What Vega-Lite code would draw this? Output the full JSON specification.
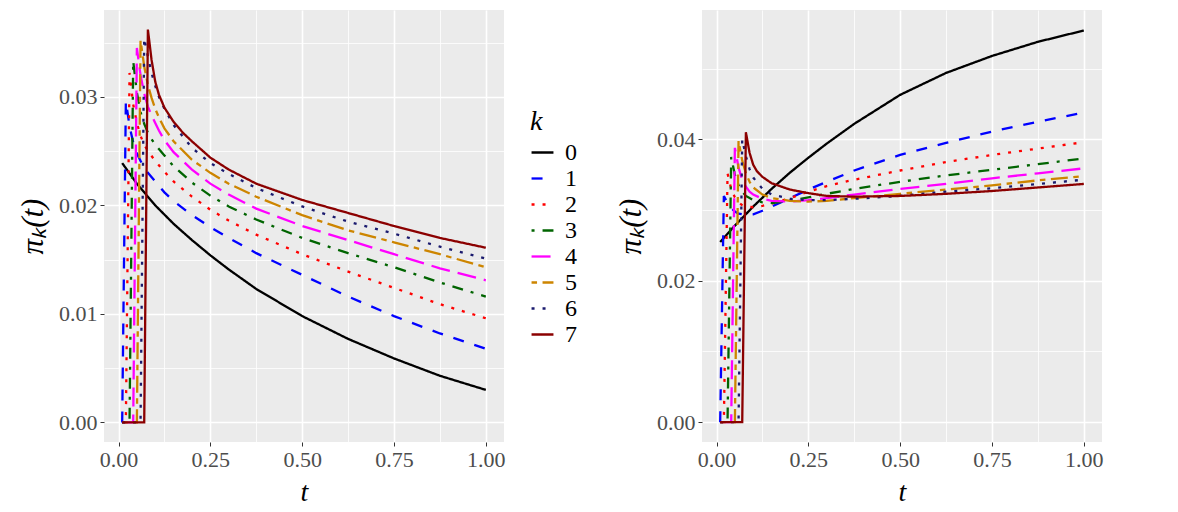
{
  "$schema": "https://vega.github.io/schema/vega-lite/v6.json",
  "background": "white",
  "padding": {"left": 17, "top": 10, "right": 5, "bottom": 5},
  "spacing": 109,
  "datasets": {
    "left": [
      {"k": "0", "t": 0.01, "p": 0.0239}, {"k": "0", "t": 0.05, "p": 0.0220}, {"k": "0", "t": 0.1, "p": 0.0200},
      {"k": "0", "t": 0.15, "p": 0.0183}, {"k": "0", "t": 0.2, "p": 0.0168}, {"k": "0", "t": 0.25, "p": 0.0154},
      {"k": "0", "t": 0.3, "p": 0.0141}, {"k": "0", "t": 0.375, "p": 0.0123}, {"k": "0", "t": 0.5, "p": 0.0098},
      {"k": "0", "t": 0.625, "p": 0.0077}, {"k": "0", "t": 0.75, "p": 0.0059}, {"k": "0", "t": 0.875, "p": 0.0043},
      {"k": "0", "t": 1.0, "p": 0.0030},

      {"k": "1", "t": 0.01, "p": 0}, {"k": "1", "t": 0.02, "p": 0.0296}, {"k": "1", "t": 0.03, "p": 0.0273},
      {"k": "1", "t": 0.04, "p": 0.0258}, {"k": "1", "t": 0.05, "p": 0.0248}, {"k": "1", "t": 0.06, "p": 0.0241},
      {"k": "1", "t": 0.07, "p": 0.0235}, {"k": "1", "t": 0.08, "p": 0.0230}, {"k": "1", "t": 0.1, "p": 0.0222},
      {"k": "1", "t": 0.125, "p": 0.0212}, {"k": "1", "t": 0.15, "p": 0.0204}, {"k": "1", "t": 0.2, "p": 0.0191},
      {"k": "1", "t": 0.25, "p": 0.0180}, {"k": "1", "t": 0.3, "p": 0.0170}, {"k": "1", "t": 0.375, "p": 0.0156},
      {"k": "1", "t": 0.5, "p": 0.0136}, {"k": "1", "t": 0.625, "p": 0.0116}, {"k": "1", "t": 0.75, "p": 0.0098},
      {"k": "1", "t": 0.875, "p": 0.0082}, {"k": "1", "t": 1.0, "p": 0.0068},

      {"k": "2", "t": 0.01, "p": 0}, {"k": "2", "t": 0.02, "p": 0}, {"k": "2", "t": 0.03, "p": 0.0322},
      {"k": "2", "t": 0.04, "p": 0.0293}, {"k": "2", "t": 0.05, "p": 0.0276}, {"k": "2", "t": 0.06, "p": 0.0264},
      {"k": "2", "t": 0.07, "p": 0.0256}, {"k": "2", "t": 0.08, "p": 0.0250}, {"k": "2", "t": 0.1, "p": 0.0241},
      {"k": "2", "t": 0.125, "p": 0.0231}, {"k": "2", "t": 0.15, "p": 0.0222}, {"k": "2", "t": 0.2, "p": 0.0208},
      {"k": "2", "t": 0.25, "p": 0.0196}, {"k": "2", "t": 0.3, "p": 0.0186}, {"k": "2", "t": 0.375, "p": 0.0173},
      {"k": "2", "t": 0.5, "p": 0.0155}, {"k": "2", "t": 0.625, "p": 0.0139}, {"k": "2", "t": 0.75, "p": 0.0124},
      {"k": "2", "t": 0.875, "p": 0.0109}, {"k": "2", "t": 1.0, "p": 0.0096},

      {"k": "3", "t": 0.01, "p": 0}, {"k": "3", "t": 0.03, "p": 0}, {"k": "3", "t": 0.04, "p": 0.0333},
      {"k": "3", "t": 0.05, "p": 0.0304}, {"k": "3", "t": 0.06, "p": 0.0286}, {"k": "3", "t": 0.07, "p": 0.0275},
      {"k": "3", "t": 0.08, "p": 0.0267}, {"k": "3", "t": 0.09, "p": 0.0261}, {"k": "3", "t": 0.1, "p": 0.0256},
      {"k": "3", "t": 0.125, "p": 0.0246}, {"k": "3", "t": 0.15, "p": 0.0236}, {"k": "3", "t": 0.2, "p": 0.0221},
      {"k": "3", "t": 0.25, "p": 0.0209}, {"k": "3", "t": 0.3, "p": 0.0199}, {"k": "3", "t": 0.375, "p": 0.0187},
      {"k": "3", "t": 0.5, "p": 0.0170}, {"k": "3", "t": 0.625, "p": 0.0156}, {"k": "3", "t": 0.75, "p": 0.0143},
      {"k": "3", "t": 0.875, "p": 0.0129}, {"k": "3", "t": 1.0, "p": 0.0116},

      {"k": "4", "t": 0.01, "p": 0}, {"k": "4", "t": 0.04, "p": 0}, {"k": "4", "t": 0.05, "p": 0.0345},
      {"k": "4", "t": 0.06, "p": 0.0320}, {"k": "4", "t": 0.07, "p": 0.0303}, {"k": "4", "t": 0.08, "p": 0.0291},
      {"k": "4", "t": 0.09, "p": 0.0283}, {"k": "4", "t": 0.1, "p": 0.0276}, {"k": "4", "t": 0.11, "p": 0.0269},
      {"k": "4", "t": 0.125, "p": 0.0260}, {"k": "4", "t": 0.15, "p": 0.0249}, {"k": "4", "t": 0.2, "p": 0.0233},
      {"k": "4", "t": 0.25, "p": 0.0220}, {"k": "4", "t": 0.3, "p": 0.0210}, {"k": "4", "t": 0.375, "p": 0.0197},
      {"k": "4", "t": 0.5, "p": 0.0181}, {"k": "4", "t": 0.625, "p": 0.0168}, {"k": "4", "t": 0.75, "p": 0.0155},
      {"k": "4", "t": 0.875, "p": 0.0142}, {"k": "4", "t": 1.0, "p": 0.0131},

      {"k": "5", "t": 0.01, "p": 0}, {"k": "5", "t": 0.05, "p": 0}, {"k": "5", "t": 0.06, "p": 0.0352},
      {"k": "5", "t": 0.07, "p": 0.0328}, {"k": "5", "t": 0.08, "p": 0.0311}, {"k": "5", "t": 0.09, "p": 0.0299},
      {"k": "5", "t": 0.1, "p": 0.0289}, {"k": "5", "t": 0.11, "p": 0.0281}, {"k": "5", "t": 0.125, "p": 0.0271},
      {"k": "5", "t": 0.15, "p": 0.0259}, {"k": "5", "t": 0.2, "p": 0.0242}, {"k": "5", "t": 0.25, "p": 0.0230},
      {"k": "5", "t": 0.3, "p": 0.0220}, {"k": "5", "t": 0.375, "p": 0.0208}, {"k": "5", "t": 0.5, "p": 0.0191},
      {"k": "5", "t": 0.625, "p": 0.0177}, {"k": "5", "t": 0.75, "p": 0.0166}, {"k": "5", "t": 0.875, "p": 0.0155},
      {"k": "5", "t": 1.0, "p": 0.0143},

      {"k": "6", "t": 0.01, "p": 0}, {"k": "6", "t": 0.06, "p": 0}, {"k": "6", "t": 0.07, "p": 0.0354},
      {"k": "6", "t": 0.08, "p": 0.0337}, {"k": "6", "t": 0.09, "p": 0.0322}, {"k": "6", "t": 0.1, "p": 0.0310},
      {"k": "6", "t": 0.11, "p": 0.0300}, {"k": "6", "t": 0.125, "p": 0.0289}, {"k": "6", "t": 0.15, "p": 0.0274},
      {"k": "6", "t": 0.2, "p": 0.0253}, {"k": "6", "t": 0.25, "p": 0.0239}, {"k": "6", "t": 0.3, "p": 0.0229},
      {"k": "6", "t": 0.375, "p": 0.0216}, {"k": "6", "t": 0.5, "p": 0.0199}, {"k": "6", "t": 0.625, "p": 0.0185},
      {"k": "6", "t": 0.75, "p": 0.0174}, {"k": "6", "t": 0.875, "p": 0.0162}, {"k": "6", "t": 1.0, "p": 0.0151},

      {"k": "7", "t": 0.01, "p": 0}, {"k": "7", "t": 0.07, "p": 0}, {"k": "7", "t": 0.08, "p": 0.0362},
      {"k": "7", "t": 0.09, "p": 0.0334}, {"k": "7", "t": 0.1, "p": 0.0314}, {"k": "7", "t": 0.11, "p": 0.0302},
      {"k": "7", "t": 0.125, "p": 0.0290}, {"k": "7", "t": 0.15, "p": 0.0277}, {"k": "7", "t": 0.175, "p": 0.0267},
      {"k": "7", "t": 0.2, "p": 0.0259}, {"k": "7", "t": 0.25, "p": 0.0244}, {"k": "7", "t": 0.3, "p": 0.0233},
      {"k": "7", "t": 0.375, "p": 0.0220}, {"k": "7", "t": 0.5, "p": 0.0205}, {"k": "7", "t": 0.625, "p": 0.0193},
      {"k": "7", "t": 0.75, "p": 0.0181}, {"k": "7", "t": 0.875, "p": 0.0170}, {"k": "7", "t": 1.0, "p": 0.0161}
    ],
    "right": [
      {"k": "0", "t": 0.01, "p": 0.0255}, {"k": "0", "t": 0.05, "p": 0.0278}, {"k": "0", "t": 0.1, "p": 0.0305},
      {"k": "0", "t": 0.15, "p": 0.0330}, {"k": "0", "t": 0.2, "p": 0.0353}, {"k": "0", "t": 0.25, "p": 0.0374},
      {"k": "0", "t": 0.3, "p": 0.0394}, {"k": "0", "t": 0.375, "p": 0.0422}, {"k": "0", "t": 0.5, "p": 0.0463},
      {"k": "0", "t": 0.625, "p": 0.0494}, {"k": "0", "t": 0.75, "p": 0.0518}, {"k": "0", "t": 0.875, "p": 0.0538},
      {"k": "0", "t": 1.0, "p": 0.0554},

      {"k": "1", "t": 0.01, "p": 0}, {"k": "1", "t": 0.02, "p": 0.0320}, {"k": "1", "t": 0.03, "p": 0.0310},
      {"k": "1", "t": 0.04, "p": 0.0303}, {"k": "1", "t": 0.05, "p": 0.0298}, {"k": "1", "t": 0.06, "p": 0.0295},
      {"k": "1", "t": 0.08, "p": 0.0293}, {"k": "1", "t": 0.1, "p": 0.0294}, {"k": "1", "t": 0.125, "p": 0.0299},
      {"k": "1", "t": 0.15, "p": 0.0305}, {"k": "1", "t": 0.2, "p": 0.0317}, {"k": "1", "t": 0.25, "p": 0.0329},
      {"k": "1", "t": 0.3, "p": 0.0340}, {"k": "1", "t": 0.375, "p": 0.0356}, {"k": "1", "t": 0.5, "p": 0.0378},
      {"k": "1", "t": 0.625, "p": 0.0395}, {"k": "1", "t": 0.75, "p": 0.0411}, {"k": "1", "t": 0.875, "p": 0.0425},
      {"k": "1", "t": 1.0, "p": 0.0438},

      {"k": "2", "t": 0.01, "p": 0}, {"k": "2", "t": 0.02, "p": 0}, {"k": "2", "t": 0.03, "p": 0.0352},
      {"k": "2", "t": 0.04, "p": 0.0330}, {"k": "2", "t": 0.05, "p": 0.0318}, {"k": "2", "t": 0.06, "p": 0.0311},
      {"k": "2", "t": 0.07, "p": 0.0307}, {"k": "2", "t": 0.08, "p": 0.0305}, {"k": "2", "t": 0.1, "p": 0.0304},
      {"k": "2", "t": 0.125, "p": 0.0306}, {"k": "2", "t": 0.15, "p": 0.0309}, {"k": "2", "t": 0.2, "p": 0.0317},
      {"k": "2", "t": 0.25, "p": 0.0326}, {"k": "2", "t": 0.3, "p": 0.0334}, {"k": "2", "t": 0.375, "p": 0.0343},
      {"k": "2", "t": 0.5, "p": 0.0356}, {"k": "2", "t": 0.625, "p": 0.0368}, {"k": "2", "t": 0.75, "p": 0.0378},
      {"k": "2", "t": 0.875, "p": 0.0387}, {"k": "2", "t": 1.0, "p": 0.0396},

      {"k": "3", "t": 0.01, "p": 0}, {"k": "3", "t": 0.03, "p": 0}, {"k": "3", "t": 0.04, "p": 0.0375},
      {"k": "3", "t": 0.05, "p": 0.0350}, {"k": "3", "t": 0.06, "p": 0.0335}, {"k": "3", "t": 0.07, "p": 0.0326},
      {"k": "3", "t": 0.08, "p": 0.0320}, {"k": "3", "t": 0.1, "p": 0.0314}, {"k": "3", "t": 0.125, "p": 0.0311},
      {"k": "3", "t": 0.15, "p": 0.0310}, {"k": "3", "t": 0.2, "p": 0.0313}, {"k": "3", "t": 0.25, "p": 0.0318},
      {"k": "3", "t": 0.3, "p": 0.0323}, {"k": "3", "t": 0.375, "p": 0.0330}, {"k": "3", "t": 0.5, "p": 0.0340},
      {"k": "3", "t": 0.625, "p": 0.0349}, {"k": "3", "t": 0.75, "p": 0.0357}, {"k": "3", "t": 0.875, "p": 0.0365},
      {"k": "3", "t": 1.0, "p": 0.0373},

      {"k": "4", "t": 0.01, "p": 0}, {"k": "4", "t": 0.04, "p": 0}, {"k": "4", "t": 0.05, "p": 0.0388},
      {"k": "4", "t": 0.06, "p": 0.0360}, {"k": "4", "t": 0.07, "p": 0.0343}, {"k": "4", "t": 0.08, "p": 0.0333},
      {"k": "4", "t": 0.09, "p": 0.0326}, {"k": "4", "t": 0.1, "p": 0.0322}, {"k": "4", "t": 0.125, "p": 0.0316},
      {"k": "4", "t": 0.15, "p": 0.0313}, {"k": "4", "t": 0.2, "p": 0.0312}, {"k": "4", "t": 0.25, "p": 0.0314},
      {"k": "4", "t": 0.3, "p": 0.0317}, {"k": "4", "t": 0.375, "p": 0.0322}, {"k": "4", "t": 0.5, "p": 0.0330},
      {"k": "4", "t": 0.625, "p": 0.0337}, {"k": "4", "t": 0.75, "p": 0.0345}, {"k": "4", "t": 0.875, "p": 0.0352},
      {"k": "4", "t": 1.0, "p": 0.0359},

      {"k": "5", "t": 0.01, "p": 0}, {"k": "5", "t": 0.05, "p": 0}, {"k": "5", "t": 0.06, "p": 0.0398},
      {"k": "5", "t": 0.07, "p": 0.0370}, {"k": "5", "t": 0.08, "p": 0.0352}, {"k": "5", "t": 0.09, "p": 0.0340},
      {"k": "5", "t": 0.1, "p": 0.0332}, {"k": "5", "t": 0.125, "p": 0.0322}, {"k": "5", "t": 0.15, "p": 0.0317},
      {"k": "5", "t": 0.2, "p": 0.0313}, {"k": "5", "t": 0.25, "p": 0.0312}, {"k": "5", "t": 0.3, "p": 0.0313},
      {"k": "5", "t": 0.375, "p": 0.0317}, {"k": "5", "t": 0.5, "p": 0.0323}, {"k": "5", "t": 0.625, "p": 0.0329},
      {"k": "5", "t": 0.75, "p": 0.0335}, {"k": "5", "t": 0.875, "p": 0.0342}, {"k": "5", "t": 1.0, "p": 0.0348},

      {"k": "6", "t": 0.01, "p": 0}, {"k": "6", "t": 0.06, "p": 0}, {"k": "6", "t": 0.07, "p": 0.0400},
      {"k": "6", "t": 0.08, "p": 0.0376}, {"k": "6", "t": 0.09, "p": 0.0358}, {"k": "6", "t": 0.1, "p": 0.0346},
      {"k": "6", "t": 0.125, "p": 0.0330}, {"k": "6", "t": 0.15, "p": 0.0322}, {"k": "6", "t": 0.2, "p": 0.0316},
      {"k": "6", "t": 0.25, "p": 0.0314}, {"k": "6", "t": 0.3, "p": 0.0314}, {"k": "6", "t": 0.375, "p": 0.0316},
      {"k": "6", "t": 0.5, "p": 0.0320}, {"k": "6", "t": 0.625, "p": 0.0326}, {"k": "6", "t": 0.75, "p": 0.0331},
      {"k": "6", "t": 0.875, "p": 0.0337}, {"k": "6", "t": 1.0, "p": 0.0343},

      {"k": "7", "t": 0.01, "p": 0}, {"k": "7", "t": 0.07, "p": 0}, {"k": "7", "t": 0.08, "p": 0.0410},
      {"k": "7", "t": 0.09, "p": 0.0381}, {"k": "7", "t": 0.1, "p": 0.0364}, {"k": "7", "t": 0.11, "p": 0.0355},
      {"k": "7", "t": 0.125, "p": 0.0347}, {"k": "7", "t": 0.15, "p": 0.0338}, {"k": "7", "t": 0.2, "p": 0.0329},
      {"k": "7", "t": 0.25, "p": 0.0324}, {"k": "7", "t": 0.3, "p": 0.0320}, {"k": "7", "t": 0.375, "p": 0.0319},
      {"k": "7", "t": 0.5, "p": 0.0320}, {"k": "7", "t": 0.625, "p": 0.0323}, {"k": "7", "t": 0.75, "p": 0.0327},
      {"k": "7", "t": 0.875, "p": 0.0332}, {"k": "7", "t": 1.0, "p": 0.0337}
    ]
  },
  "hconcat": [
    {
      "width": 400,
      "height": 432,
      "data": {"name": "left"},
      "mark": {"type": "line", "strokeWidth": 2.3, "strokeCap": "butt", "clip": true},
      "encoding": {
        "x": {
          "field": "t", "type": "quantitative",
          "scale": {"domain": [-0.0395, 1.0495], "nice": false, "zero": false},
          "axis": {
            "title": "t",
            "values": [0, 0.125, 0.25, 0.375, 0.5, 0.625, 0.75, 0.875, 1],
            "format": ".2f",
            "labelExpr": "round(datum.value*1000) % 250 != 0 ? '' : datum.label",
            "gridWidth": {"condition": {"test": "round(datum.value*1000) % 250 != 0", "value": 0.8}, "value": 1.6},
            "tickOpacity": {"condition": {"test": "round(datum.value*1000) % 250 != 0", "value": 0}, "value": 1}
          }
        },
        "y": {
          "field": "p", "type": "quantitative",
          "scale": {"domain": [-0.0018, 0.0380], "nice": false, "zero": false},
          "axis": {
            "title": "πₖ(t)",
            "titleFontSize": 31,
            "titlePadding": 9,
            "values": [0, 0.005, 0.01, 0.015, 0.02, 0.025, 0.03, 0.035],
            "format": ".2f",
            "labelExpr": "round(datum.value*1000) % 10 != 0 ? '' : datum.label",
            "gridWidth": {"condition": {"test": "round(datum.value*1000) % 10 != 0", "value": 0.8}, "value": 1.6},
            "tickOpacity": {"condition": {"test": "round(datum.value*1000) % 10 != 0", "value": 0}, "value": 1}
          }
        },
        "color": {
          "field": "k", "type": "nominal",
          "scale": {
            "domain": ["0", "1", "2", "3", "4", "5", "6", "7"],
            "range": ["#000000", "#0000FF", "#FF0000", "#006400", "#FF00FF", "#CD8500", "#1A1A6E", "#8B0000"]
          },
          "legend": {"title": "k", "orient": "none", "legendX": 421, "legendY": 93}
        },
        "strokeDash": {
          "field": "k", "type": "nominal",
          "scale": {
            "domain": ["0", "1", "2", "3", "4", "5", "6", "7"],
            "range": [[1, 0], [11, 11], [3, 8], [3, 8, 11, 8], [19, 8], [5.5, 5.5, 17, 5.5], [3, 8], [1, 0]]
          },
          "legend": {"title": "k", "orient": "none", "legendX": 421, "legendY": 93}
        }
      }
    },
    {
      "width": 400,
      "height": 432,
      "data": {"name": "right"},
      "mark": {"type": "line", "strokeWidth": 2.3, "strokeCap": "butt", "clip": true},
      "encoding": {
        "x": {
          "field": "t", "type": "quantitative",
          "scale": {"domain": [-0.0395, 1.0495], "nice": false, "zero": false},
          "axis": {
            "title": "t",
            "values": [0, 0.125, 0.25, 0.375, 0.5, 0.625, 0.75, 0.875, 1],
            "format": ".2f",
            "labelExpr": "round(datum.value*1000) % 250 != 0 ? '' : datum.label",
            "gridWidth": {"condition": {"test": "round(datum.value*1000) % 250 != 0", "value": 0.8}, "value": 1.6},
            "tickOpacity": {"condition": {"test": "round(datum.value*1000) % 250 != 0", "value": 0}, "value": 1}
          }
        },
        "y": {
          "field": "p", "type": "quantitative",
          "scale": {"domain": [-0.0028, 0.0583], "nice": false, "zero": false},
          "axis": {
            "title": "πₖ(t)",
            "titleFontSize": 31,
            "titlePadding": 9,
            "values": [0, 0.01, 0.02, 0.03, 0.04, 0.05],
            "format": ".2f",
            "labelExpr": "round(datum.value*1000) % 20 != 0 ? '' : datum.label",
            "gridWidth": {"condition": {"test": "round(datum.value*1000) % 20 != 0", "value": 0.8}, "value": 1.6},
            "tickOpacity": {"condition": {"test": "round(datum.value*1000) % 20 != 0", "value": 0}, "value": 1}
          }
        },
        "color": {
          "field": "k", "type": "nominal",
          "scale": {
            "domain": ["0", "1", "2", "3", "4", "5", "6", "7"],
            "range": ["#000000", "#0000FF", "#FF0000", "#006400", "#FF00FF", "#CD8500", "#1A1A6E", "#8B0000"]
          },
          "legend": {"title": "k", "orient": "none", "legendX": 421, "legendY": 93}
        },
        "strokeDash": {
          "field": "k", "type": "nominal",
          "scale": {
            "domain": ["0", "1", "2", "3", "4", "5", "6", "7"],
            "range": [[1, 0], [11, 11], [3, 8], [3, 8, 11, 8], [19, 8], [5.5, 5.5, 17, 5.5], [3, 8], [1, 0]]
          },
          "legend": {"title": "k", "orient": "none", "legendX": 421, "legendY": 93}
        }
      }
    }
  ],
  "config": {
    "font": "Liberation Serif",
    "view": {"fill": "#EBEBEB", "stroke": null},
    "axis": {
      "domain": false,
      "gridColor": "#FFFFFF",
      "tickColor": "#333333",
      "tickSize": 4,
      "tickWidth": 1,
      "labelFont": "Liberation Serif",
      "labelFontSize": 22,
      "labelColor": "#4D4D4D",
      "labelPadding": 3,
      "titleFont": "Liberation Serif",
      "titleFontSize": 28,
      "titleFontStyle": "italic",
      "titleFontWeight": "normal",
      "titleColor": "#000000",
      "titlePadding": 8
    },
    "legend": {
      "titleFont": "Liberation Serif",
      "titleFontSize": 28,
      "titleFontStyle": "italic",
      "titleFontWeight": "normal",
      "titleColor": "#000000",
      "titlePadding": 4,
      "labelFont": "Liberation Serif",
      "labelFontSize": 24,
      "labelColor": "#000000",
      "labelOffset": 10,
      "symbolType": "stroke",
      "symbolSize": 480,
      "symbolStrokeWidth": 2.3,
      "rowPadding": 1,
      "padding": 5
    }
  }
}
